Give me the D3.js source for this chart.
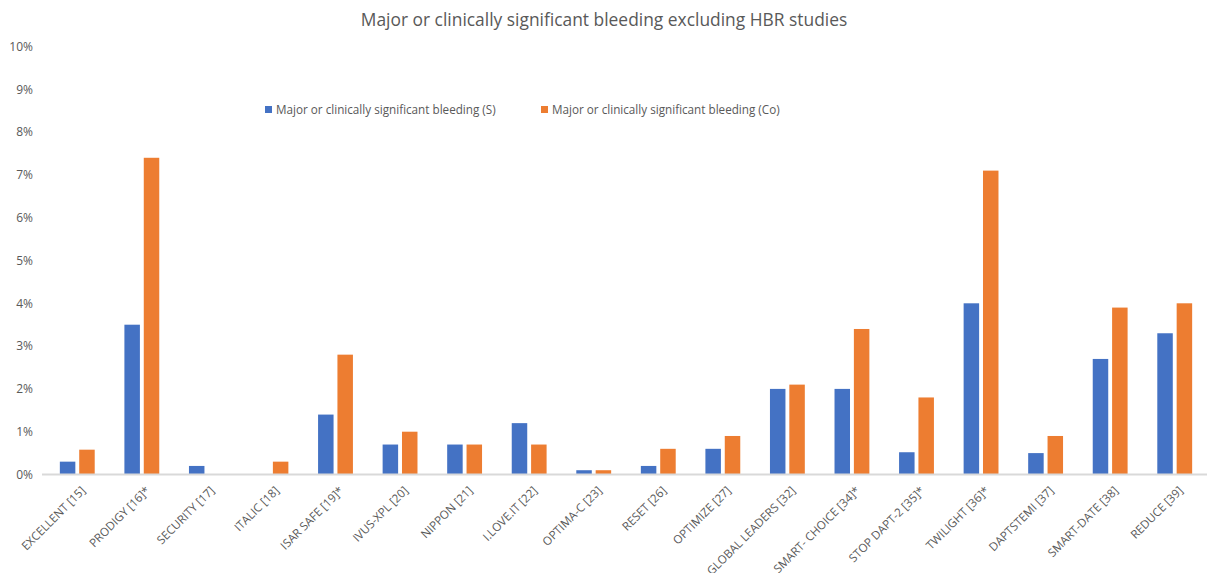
<!DOCTYPE html>
<html>
<head>
<meta charset="utf-8">
<script src="https://cdn.jsdelivr.net/npm/d3@7"></script>
<style>
  body { margin: 0; background: #fff; }
  text { font-family: "Open Sans", "Noto Sans", sans-serif; }
</style>
</head>
<body>
<div id="chart"></div>
<script>
// study names as shown on the x axis
var studies = ["EXCELLENT [15]", "PRODIGY [16]*", "SECURITY [17]", "ITALIC [18]", "ISAR SAFE [19]*",
    "IVUS-XPL [20]", "NIPPON [21]", "I.LOVE.IT [22]", "OPTIMA-C [23]", "RESET [26]", "OPTIMIZE [27]",
    "GLOBAL LEADERS [32]", "SMART- CHOICE [34]*", "STOP DAPT-2 [35]*", "TWILIGHT [36]*", "DAPTSTEMI [37]",
    "SMART-DATE [38]", "REDUCE [39]"];
// bleeding rates in %
var shortDapt = [0.3, 3.5, 0.2, 0, 1.4, 0.7, 0.7, 1.2, 0.1, 0.2, 0.6, 2.0, 2.0, 0.52, 4.0, 0.5, 2.7, 3.3];
var controlDapt = [0.58, 7.4, 0, 0.3, 2.8, 1.0, 0.7, 0.7, 0.1, 0.6, 0.9, 2.1, 3.4, 1.8, 7.1, 0.9, 3.9, 4.0];
var seriesNames = ["Major or clinically significant bleeding (S)", "Major or clinically significant bleeding (Co)"];
var yTicks = [0, 1, 2, 3, 4, 5, 6, 7, 8, 9, 10];

var W = 1207, H = 573;
var colors = ["#4472C4", "#ED7D31"];

var data = studies.map(function(s, i) {
    return { study: s, values: [shortDapt[i], controlDapt[i]] };
});

var svg = d3.select("#chart").append("svg")
    .attr("width", W)
    .attr("height", H);

// title
svg.append("text")
    .attr("x", 604)
    .attr("y", 26)
    .attr("text-anchor", "middle")
    .attr("font-size", "17.4px")
    .attr("fill", "#595959")
    .text("Major or clinically significant bleeding excluding HBR studies");

// scales
var x0 = d3.scaleBand()
    .domain(studies)
    .range([45, 1207])
    .paddingInner(0.46)
    .paddingOuter(0.23);

var x1 = d3.scaleBand()
    .domain([0, 1])
    .range([0, x0.bandwidth()])
    .paddingInner(0.2);

var y = d3.scaleLinear()
    .domain([0, 10])
    .range([474.5, 46.5]);

// y axis labels (no line, no gridlines)
var yAxis = svg.append("g")
    .attr("transform", "translate(33,0)")
    .call(d3.axisLeft(y).tickValues(yTicks).tickSize(0).tickPadding(0)
        .tickFormat(function(d) { return d + "%"; }));
yAxis.select(".domain").remove();
yAxis.selectAll("text")
    .attr("font-size", "12px")
    .attr("font-family", "'Open Sans', sans-serif")
    .attr("fill", "#595959");

// bars
var groups = svg.append("g").selectAll("g")
    .data(data)
    .enter().append("g")
    .attr("transform", function(d) { return "translate(" + x0(d.study) + ",0)"; });

groups.selectAll("rect")
    .data(function(d) { return d.values; })
    .enter().append("rect")
    .attr("x", function(d, i) { return x1(i); })
    .attr("y", function(d) { return y(d); })
    .attr("width", x1.bandwidth())
    .attr("height", function(d) { return y(0) - y(d); })
    .attr("fill", function(d, i) { return colors[i]; });

// x axis
var xAxis = svg.append("g")
    .attr("transform", "translate(0," + y(0) + ")")
    .call(d3.axisBottom(x0).tickSize(0).tickSizeOuter(0).tickPadding(0));
xAxis.select(".domain")
    .attr("stroke", "#d9d9d9")
    .attr("stroke-width", 2)
    .attr("d", "M42,0H1207");
xAxis.selectAll("text")
    .attr("font-size", "11.6px")
    .attr("font-family", "'Open Sans', sans-serif")
    .attr("fill", "#595959")
    .attr("text-anchor", "end")
    .attr("dy", "0.35em")
    .attr("transform", "translate(6,14) rotate(-45)");

// legend
var legend = svg.append("g").selectAll("g")
    .data(seriesNames)
    .enter().append("g")
    .attr("transform", function(d, i) { return "translate(" + [265, 541][i] + ",110)"; });

legend.append("rect")
    .attr("x", 0)
    .attr("y", -4)
    .attr("width", 7)
    .attr("height", 7)
    .attr("fill", function(d, i) { return colors[i]; });

legend.append("text")
    .attr("x", 11)
    .attr("y", 0)
    .attr("dy", "0.35em")
    .attr("font-size", "11.7px")
    .attr("fill", "#595959")
    .text(function(d) { return d; });
</script>
</body>
</html>
